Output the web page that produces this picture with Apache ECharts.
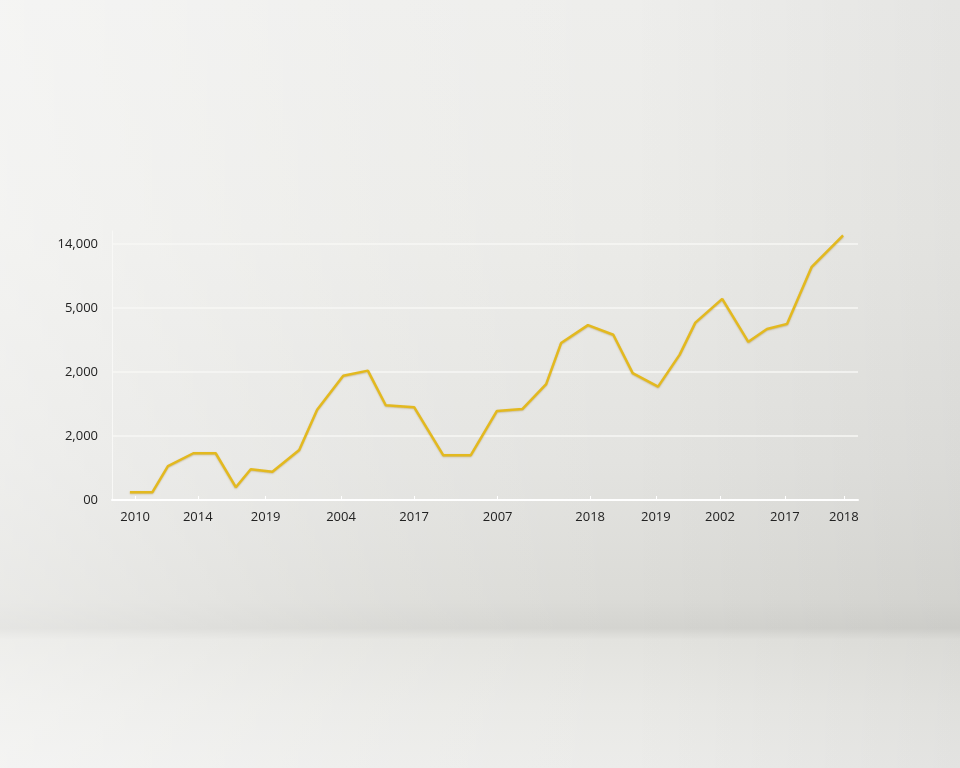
<!DOCTYPE html>
<html>
<head>
<meta charset="utf-8">
<script src="https://cdn.jsdelivr.net/npm/echarts@6/dist/echarts.min.js"></script>
<style>
html,body{margin:0;padding:0;width:960px;height:768px;overflow:hidden;}
#bg{position:absolute;left:0;top:0;width:960px;height:768px;
background:
 linear-gradient(to right, rgba(255,255,255,0.40) 0%, rgba(255,255,255,0.12) 40%, rgba(0,0,0,0.0) 65%, rgba(0,0,0,0.04) 100%),
 linear-gradient(to bottom, #eeeeec 0%, #ebebe8 30%, #e3e3e0 60%, #dbdbd7 78%, #d4d4d0 81.8%, #e3e3df 83.3%, #e9e9e6 92%, #ececea 100%);}
#chart{position:absolute;left:0;top:0;width:960px;height:768px;}
</style>
</head>
<body>
<div id="bg"></div>
<div id="chart"></div>
<script>
// x positions (axis units 0..100) and level values (axis units 0..4 mapped to tick labels)
const xPos = [2.4, 5.4, 7.5, 10.9, 13.9, 16.6, 18.6, 21.5, 25.1, 27.5, 31.0, 34.3, 36.7, 40.5, 44.4, 48.1, 51.6, 55.0, 58.2, 60.2, 63.8, 67.2, 69.8, 73.2, 76.1, 78.2, 81.8, 85.3, 87.8, 90.5, 93.8, 98.0];
const values = [0.12, 0.12, 0.53, 0.73, 0.73, 0.20, 0.48, 0.44, 0.78, 1.41, 1.94, 2.02, 1.48, 1.45, 0.70, 0.70, 1.39, 1.42, 1.81, 2.45, 2.73, 2.58, 1.98, 1.77, 2.27, 2.77, 3.14, 2.47, 2.67, 2.75, 3.64, 4.13];
const xLabelPos = [3.1, 11.5, 20.6, 30.7, 40.5, 51.7, 64.1, 72.9, 81.5, 90.2, 98.1];
const xLabels = ["2010", "2014", "2019", "2004", "2017", "2007", "2018", "2019", "2002", "2017", "2018"];
const yLabels = ["00", "2,000", "2,000", "5,000", "14,000"];

const chart = echarts.init(document.getElementById('chart'), null, {renderer: 'canvas'});
const data = xPos.map((x, i) => [x, values[i]]);
chart.setOption({
  backgroundColor: 'transparent',
  animation: false,
  grid: {left: 112, right: 102, top: 231, bottom: 268, containLabel: false},
  xAxis: {
    type: 'value', min: 0, max: 100,
    axisLine: {show: true, lineStyle: {color: '#ffffff', width: 2}},
    axisTick: {show: true, customValues: xLabelPos, length: 4, inside: true, lineStyle: {color: '#ffffff', width: 1}},
    splitLine: {show: false},
    axisLabel: {
      customValues: xLabelPos, margin: 11, color: '#222222', fontSize: 13,
      fontFamily: '"Open Sans", "DejaVu Sans", sans-serif',
      formatter: function (v) { const i = xLabelPos.indexOf(v); return i >= 0 ? xLabels[i] : ''; }
    }
  },
  yAxis: {
    type: 'value', min: 0, max: 4.2, interval: 1,
    axisLine: {show: true, lineStyle: {color: '#f8f8f6', width: 1}},
    axisTick: {show: false},
    splitLine: {show: true, showMaxLine: false, lineStyle: {color: '#f7f7f5', width: 1.5}},
    axisLabel: {
      showMaxLabel: false, margin: 14, color: '#222222', fontSize: 13,
      fontFamily: '"Open Sans", "DejaVu Sans", sans-serif',
      formatter: function (v) { const i = Math.round(v); return (Math.abs(v - i) < 1e-6 && yLabels[i] !== undefined) ? yLabels[i] : ''; }
    }
  },
  series: [{
    type: 'line', data: data, symbol: 'none', clip: false,
    lineStyle: {color: '#e3b91f', width: 2.5, shadowColor: 'rgba(150,110,0,0.35)', shadowBlur: 1.5, shadowOffsetY: 0.8}
  }]
});
</script>
</body>
</html>
